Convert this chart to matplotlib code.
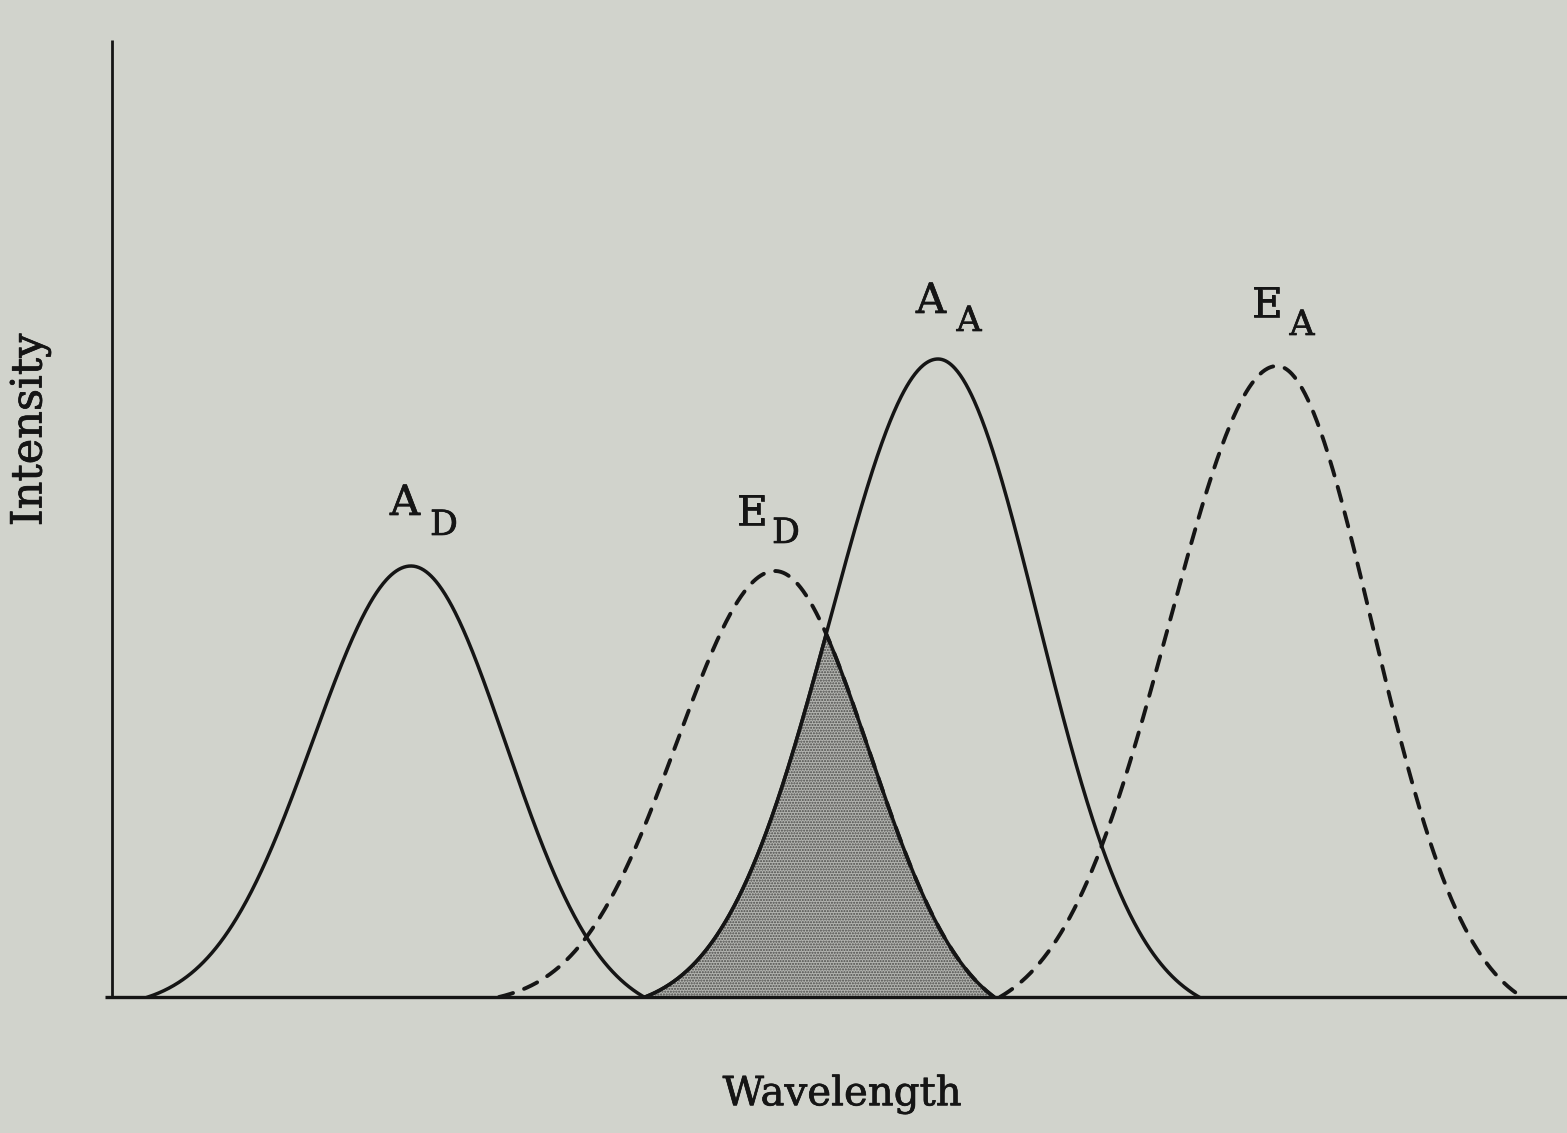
import numpy as np
import matplotlib
matplotlib.use("Agg")
import matplotlib.pyplot as plt
import matplotlib.patheffects as pe

plt.rcParams['lines.scale_dashes'] = False

# ---- data (x = wavelength units, y = intensity units) ----
names      = ["A_D", "E_D", "A_A", "E_A"]
main_lab   = ["A", "E", "A", "E"]
sub_lab    = ["D", "D", "A", "A"]
centers    = [299, 663, 826, 1165]
heights    = [431, 426, 638, 631]
sig_left   = [98, 98, 107, 108]
sig_right  = [95, 94, 100, 95]
left_end   = [36, 387, 533, 888]
right_end  = [532, 882, 1087, 1410]
dashed     = [False, True, False, True]

# label positions (data coords, baseline of letter)
lab_x      = [293, 640, 819, 1155]
lab_y      = [482, 472, 684, 680]
sub_x      = [332, 674, 857, 1190]
sub_y      = [462, 454, 666, 662]

BG = "#d1d3cc"
INK = "#151515"


def band(i, x):
    c, h = centers[i], heights[i]
    y = np.zeros_like(x)
    for side, (sl, end) in enumerate([(sig_left[i], left_end[i]), (sig_right[i], right_end[i])]):
        m = (x <= c) if side == 0 else (x > c)
        U = abs(end - c) / sl
        off = np.exp(-U ** 2 / 2)
        u = (x[m] - c) / sl
        v = (np.exp(-u ** 2 / 2) - off) / (1 - off)
        y[m] = h * np.clip(v, 0, None)
    return y


fig = plt.figure(figsize=(15.67, 11.33), dpi=100, facecolor=BG)
W, H = 1567, 1133
ax = fig.add_axes([112 / W, (H - 997) / H, (W - 112) / W, (997 - 40) / H])
ax.set_facecolor(BG)
ax.set_xlim(0, 1455)
ax.set_ylim(0, 957)
for s in ax.spines.values():
    s.set_visible(False)
ax.set_xticks([])
ax.set_yticks([])

# axes lines
ax.plot([-7, 1455], [0, 0], color=INK, lw=2.4, clip_on=False, solid_capstyle='butt')
ax.plot([0, 0], [0, 957], color=INK, lw=2.0, clip_on=False, solid_capstyle='butt')

for i in range(4):
    x = np.linspace(left_end[i], right_end[i], 600)
    y = band(i, x)
    if dashed[i]:
        ax.plot(x, y, color=INK, lw=2.8, dashes=(10.5, 8.5), dash_capstyle='round', zorder=3)
    else:
        ax.plot(x, y, color=INK, lw=2.5, zorder=3)

# overlap region under both E_D and A_A
xo = np.linspace(left_end[2], right_end[1], 800)
yo = np.minimum(band(1, xo), band(2, xo))
ax.fill_between(xo, 0, yo, facecolor="#b3b4b0", edgecolor="none", zorder=1)
ax.fill_between(xo, 0, yo, facecolor="none", edgecolor="#4a4a48", hatch="......", linewidth=0, zorder=1.1)
ax.plot(xo, yo, color=INK, lw=2.5, zorder=3)

fam = ["DejaVu Serif"]
stroke = [pe.withStroke(linewidth=0.5, foreground=INK)]
for i in range(4):
    ax.text(lab_x[i], lab_y[i], main_lab[i], ha='center', va='baseline',
            fontsize=30, family=fam, color=INK, path_effects=stroke)
    ax.text(sub_x[i], sub_y[i], sub_lab[i], ha='center', va='baseline',
            fontsize=25, family=fam, color=INK, path_effects=stroke)

fig.text(842 / W, 1 - 1095 / H, "Wavelength", ha='center', va='center',
         fontsize=29, family=fam, color=INK, path_effects=stroke)
fig.text(30 / W, 1 - 430 / H, "Intensity", ha='center', va='center',
         rotation=90, fontsize=31, family=fam, color=INK, path_effects=stroke)

fig.savefig("out.png", dpi=100, facecolor=BG)
